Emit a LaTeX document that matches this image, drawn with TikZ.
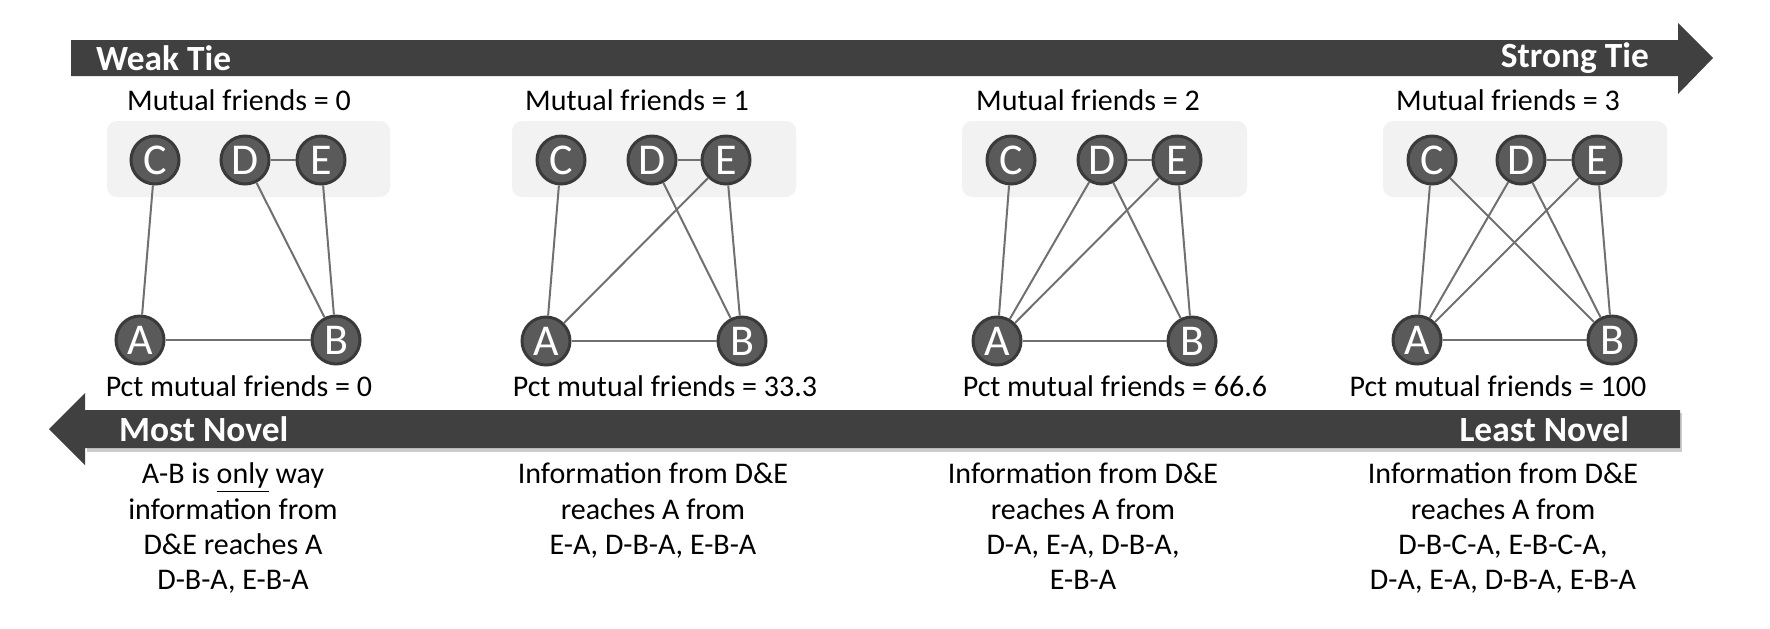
\documentclass[tikz,border=0pt]{standalone}
\usepackage{fontspec}
\setmainfont{Carlito}
\usetikzlibrary{positioning}

\definecolor{bardark}{HTML}{404040}
\definecolor{nodefill}{HTML}{5A5A5A}
\definecolor{nodeedge}{HTML}{3A3A3A}
\definecolor{tiegray}{HTML}{707070}
\definecolor{panelgray}{HTML}{F2F2F2}

\begin{document}
\begin{tikzpicture}[x=0.5pt,y=-0.5pt,
    friend/.style={circle,fill=nodefill,draw=nodeedge,line width=1.5pt,
                   minimum size=24pt,inner sep=0pt,text=white,
                   font=\fontsize{22}{22}\selectfont},
    tie/.style={draw=tiegray,line width=1pt},
    panel/.style={fill=panelgray,rounded corners=5pt},
    caption/.style={font=\fontsize{15}{17}\selectfont},
    paths/.style={font=\fontsize{15}{17.6}\selectfont,align=center,anchor=north},
    barlabel/.style={text=white,font=\fontsize{17.7}{18}\selectfont\bfseries}]

  \useasboundingbox (0,0) rectangle (1770,628);

  % the two arrows
  \fill[bardark] (71,40) -- (1678,40) -- (1678,23) -- (1713,58)
                 -- (1678,94) -- (1678,76) -- (71,76) -- cycle;
  \fill[black!20] (1682,413) -- (87,413) -- (87,452) -- (1682,452) -- cycle;
  \fill[bardark] (1680,410) -- (85,410) -- (85,393) -- (49,429)
                 -- (85,465) -- (85,448) -- (1680,448) -- cycle;
  \node[barlabel,anchor=west] (weak)   at (89,58)   {Weak Tie};
  \node[barlabel,anchor=east] (strong) at (1656,58) {Strong Tie};
  \node[barlabel,anchor=west] (most)   at (112,429) {Most Novel};
  \node[barlabel,anchor=east] (least)  at (1636,429) {Least Novel};

  % grey boxes behind C, D, E
  \fill[panel] (107,121)  rectangle (390,197);
  \fill[panel] (512,121)  rectangle (796,197);
  \fill[panel] (962,121)  rectangle (1247,197);
  \fill[panel] (1383,121) rectangle (1667,197);

  % panel 1
  \node[caption] (mf1) at (239,100) {Mutual friends = 0};
  \node[friend] (c1) at (155,160) {C};
  \node[friend] (d1) at (245,160) {D};
  \node[friend] (e1) at (321,160) {E};
  \node[friend] (a1) at (140,340) {A};
  \node[friend] (b1) at (336,340) {B};
  \node[caption] (pct1) at (239,386) {Pct mutual friends = 0};
  \node[paths] (info1) at (233,456) {A-B is \underline{only} way\\information from\\D\&E reaches A\\D-B-A, E-B-A};

  % panel 2
  \node[caption] (mf2) at (637,100) {Mutual friends = 1};
  \node[friend] (c2) at (561,160) {C};
  \node[friend] (d2) at (652,160) {D};
  \node[friend] (e2) at (726,160) {E};
  \node[friend] (a2) at (546,341) {A};
  \node[friend] (b2) at (742,341) {B};
  \node[caption] (pct2) at (665,386) {Pct mutual friends = 33.3};
  \node[paths] (info2) at (653,456) {Information from D\&E\\reaches A from\\E-A, D-B-A, E-B-A};

  % panel 3
  \node[caption] (mf3) at (1088,100) {Mutual friends = 2};
  \node[friend] (c3) at (1011,160) {C};
  \node[friend] (d3) at (1102,160) {D};
  \node[friend] (e3) at (1177,160) {E};
  \node[friend] (a3) at (997,341)  {A};
  \node[friend] (b3) at (1192,341) {B};
  \node[caption] (pct3) at (1115,386) {Pct mutual friends = 66.6};
  \node[paths] (info3) at (1083,456) {Information from D\&E\\reaches A from\\D-A, E-A, D-B-A,\\E-B-A};

  % panel 4
  \node[caption] (mf4) at (1508,100) {Mutual friends = 3};
  \node[friend] (c4) at (1432,160) {C};
  \node[friend] (d4) at (1521,160) {D};
  \node[friend] (e4) at (1597,160) {E};
  \node[friend] (a4) at (1417,340) {A};
  \node[friend] (b4) at (1612,340) {B};
  \node[caption] (pct4) at (1498,386) {Pct mutual friends = 100};
  \node[paths] (info4) at (1503,456) {Information from D\&E\\reaches A from\\D-B-C-A, E-B-C-A,\\D-A, E-A, D-B-A, E-B-A};

  % ties
  \draw[tie] (a1) edge (b1) edge (c1)
             (d1) edge (e1) edge (b1)
             (e1) edge (b1);
  \draw[tie] (a2) edge (b2) edge (c2) edge (e2)
             (d2) edge (e2) edge (b2)
             (e2) edge (b2);
  \draw[tie] (a3) edge (b3) edge (c3) edge (d3) edge (e3)
             (d3) edge (e3) edge (b3)
             (e3) edge (b3);
  \draw[tie] (a4) edge (b4) edge (c4) edge (d4) edge (e4)
             (c4) edge (b4)
             (d4) edge (e4) edge (b4)
             (e4) edge (b4);
\end{tikzpicture}
\end{document}
